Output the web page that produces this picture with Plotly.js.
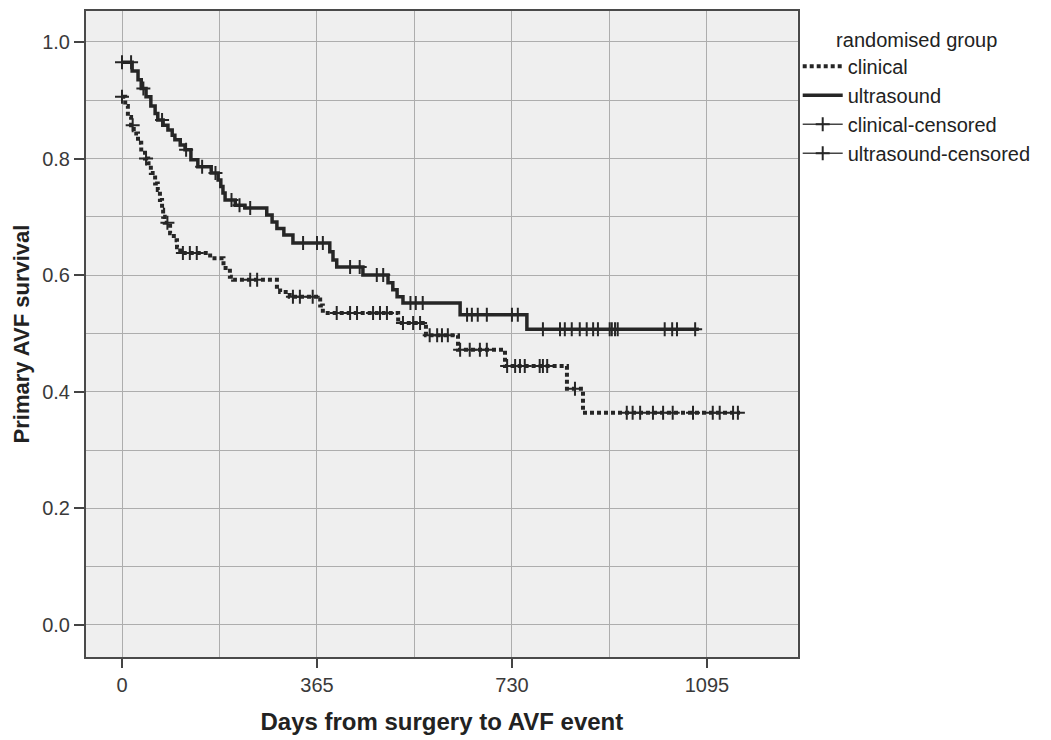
<!DOCTYPE html>
<html>
<head>
<meta charset="utf-8">
<script src="https://cdn.plot.ly/plotly-3.0.1.min.js"></script>
<style>html,body{margin:0;padding:0;background:#fff;}#chart{width:1051px;height:740px;}</style>
</head>
<body>
<div id="chart"></div>
<script>
// ---- Data ----
// Ultrasound group: Kaplan-Meier step curve
const usTimes = [0, 19, 30, 36, 45, 54, 62, 67, 77, 86, 94, 99, 109, 118, 129, 142, 167, 180, 185, 189, 193, 212, 230, 271, 281, 290, 303, 320, 389, 395, 402, 451, 498, 507, 515, 526, 633, 758, 1080];
const usSurv  = [0.965, 0.95, 0.935, 0.92, 0.906, 0.89, 0.877, 0.866, 0.857, 0.849, 0.840, 0.832, 0.823, 0.815, 0.798, 0.786, 0.775, 0.763, 0.752, 0.741, 0.729, 0.72, 0.715, 0.703, 0.691, 0.68, 0.669, 0.655, 0.64, 0.626, 0.614, 0.600, 0.587, 0.575, 0.563, 0.552, 0.532, 0.507, 0.507];
// Ultrasound censored observations
const usCensTimes = [0, 17, 40, 75, 120, 150, 175, 205, 220, 240, 339, 365, 376, 427, 445, 477, 489, 540, 550, 563, 646, 655, 666, 683, 730, 741, 788, 820, 829, 842, 857, 870, 882, 891, 913, 917, 923, 928, 1016, 1030, 1039, 1073];
const usCensSurv  = [0.965, 0.965, 0.92, 0.866, 0.815, 0.786, 0.775, 0.729, 0.72, 0.715, 0.655, 0.655, 0.655, 0.614, 0.614, 0.600, 0.600, 0.552, 0.552, 0.552, 0.532, 0.532, 0.532, 0.532, 0.532, 0.532, 0.507, 0.507, 0.507, 0.507, 0.507, 0.507, 0.507, 0.507, 0.507, 0.507, 0.507, 0.507, 0.507, 0.507, 0.507, 0.507];

// Clinical group: Kaplan-Meier step curve
const clTimes = [0, 6, 11, 17, 22, 30, 36, 43, 49, 54, 62, 67, 71, 75, 77, 80, 90, 97, 103, 109, 165, 190, 202, 208, 290, 296, 314, 371, 376, 517, 569, 629, 717, 833, 863, 1157];
const clSurv  = [0.906, 0.89, 0.871, 0.857, 0.843, 0.827, 0.81, 0.80, 0.792, 0.775, 0.757, 0.746, 0.729, 0.712, 0.70, 0.69, 0.672, 0.66, 0.648, 0.638, 0.629, 0.612, 0.597, 0.592, 0.58, 0.571, 0.563, 0.548, 0.535, 0.518, 0.497, 0.472, 0.444, 0.405, 0.364, 0.364];
// Clinical censored observations
const clCensTimes = [0, 20, 45, 85, 114, 127, 140, 240, 253, 320, 333, 357, 402, 427, 440, 470, 483, 496, 526, 545, 558, 576, 590, 599, 610, 633, 651, 670, 683, 721, 736, 745, 754, 782, 788, 796, 848, 945, 956, 970, 994, 1013, 1031, 1069, 1106, 1119, 1144, 1153];
const clCensSurv  = [0.906, 0.857, 0.80, 0.69, 0.638, 0.638, 0.638, 0.592, 0.592, 0.563, 0.563, 0.563, 0.535, 0.535, 0.535, 0.535, 0.535, 0.535, 0.518, 0.518, 0.518, 0.497, 0.497, 0.497, 0.497, 0.472, 0.472, 0.472, 0.472, 0.444, 0.444, 0.444, 0.444, 0.444, 0.444, 0.444, 0.405, 0.364, 0.364, 0.364, 0.364, 0.364, 0.364, 0.364, 0.364, 0.364, 0.364, 0.364];

// Axis ticks
const xTickStart = 0, xTickStep = 365, xGridStep = 182.5;
const yTickStart = 0, yTickStep = 0.2, yGridStep = 0.1;

// Series names
const seriesNames = ['clinical', 'ultrasound', 'clinical-censored', 'ultrasound-censored'];
const legendTitle = 'randomised group';
const xTitle = 'Days from surgery to AVF event';
const yTitle = 'Primary AVF survival';

// Interleave nulls so censor markers are isolated points (legend shows line + cross)
function isolate(arr) { return arr.flatMap(v => [v, null]); }

const ink = '#262626';
const traces = [
  {
    x: clTimes, y: clSurv, name: seriesNames[0], type: 'scatter', mode: 'lines',
    line: {shape: 'hv', color: ink, width: 4, dash: '4px,3px'}
  },
  {
    x: usTimes, y: usSurv, name: seriesNames[1], type: 'scatter', mode: 'lines',
    line: {shape: 'hv', color: ink, width: 3.5}
  },
  {
    x: isolate(clCensTimes), y: isolate(clCensSurv), name: seriesNames[2], type: 'scatter',
    mode: 'lines+markers', connectgaps: false,
    line: {color: '#444', width: 1.5},
    marker: {symbol: 'cross-thin-open', size: 10, color: ink, line: {color: ink, width: 2}}
  },
  {
    x: isolate(usCensTimes), y: isolate(usCensSurv), name: seriesNames[3], type: 'scatter',
    mode: 'lines+markers', connectgaps: false,
    line: {color: '#444', width: 1.5},
    marker: {symbol: 'cross-thin-open', size: 10, color: ink, line: {color: ink, width: 2}}
  }
];

const font = 'Liberation Sans, Arial, sans-serif';
const gridColor = '#adadad';
const layout = {
  width: 1051, height: 740,
  margin: {l: 86, r: 253, t: 11, b: 83, pad: 0},
  paper_bgcolor: '#ffffff',
  plot_bgcolor: '#efefef',
  font: {family: font, color: '#333'},
  showlegend: true,
  xaxis: {
    automargin: false,
    range: [-67.4, 1265],
    tickmode: 'linear', tick0: xTickStart, dtick: xTickStep,
    ticks: 'outside', ticklen: 9, tickwidth: 2, tickcolor: '#444',
    showgrid: true, gridcolor: gridColor, gridwidth: 1,
    minor: {tickmode: 'linear', tick0: xTickStart, dtick: xGridStep, showgrid: true, gridcolor: gridColor, gridwidth: 1, ticks: ''},
    zeroline: false,
    showline: true, mirror: true, linecolor: '#4a4a4a', linewidth: 2,
    tickfont: {family: font, size: 20, color: '#3a3a3a'},
    title: {text: xTitle, font: {family: font, size: 24, color: '#222', weight: 'bold'}, standoff: 18}
  },
  yaxis: {
    automargin: false,
    range: [-0.055, 1.053],
    tickmode: 'linear', tick0: yTickStart, dtick: yTickStep,
    tickformat: '.1f',
    ticks: 'outside', ticklen: 10, tickwidth: 2, tickcolor: '#444',
    showgrid: true, gridcolor: gridColor, gridwidth: 1,
    minor: {tickmode: 'linear', tick0: yTickStart, dtick: yGridStep, showgrid: true, gridcolor: gridColor, gridwidth: 1, ticks: ''},
    zeroline: false,
    showline: true, mirror: true, linecolor: '#4a4a4a', linewidth: 2,
    tickfont: {family: font, size: 20, color: '#3a3a3a'},
    title: {text: yTitle, font: {family: font, size: 22, color: '#222', weight: 'bold'}, standoff: 6}
  },
  legend: {
    xref: 'container', yref: 'container',
    x: 0.759, xanchor: 'left', y: 0.972, yanchor: 'top',
    bgcolor: 'rgba(0,0,0,0)', borderwidth: 0,
    font: {family: font, size: 20, color: '#222'},
    title: {text: legendTitle, side: 'top center', font: {family: font, size: 20, color: '#222'}},
    traceorder: 'normal', itemwidth: 40
  }
};

Plotly.newPlot('chart', traces, layout, {displayModeBar: false, staticPlot: true});
</script>
</body>
</html>
